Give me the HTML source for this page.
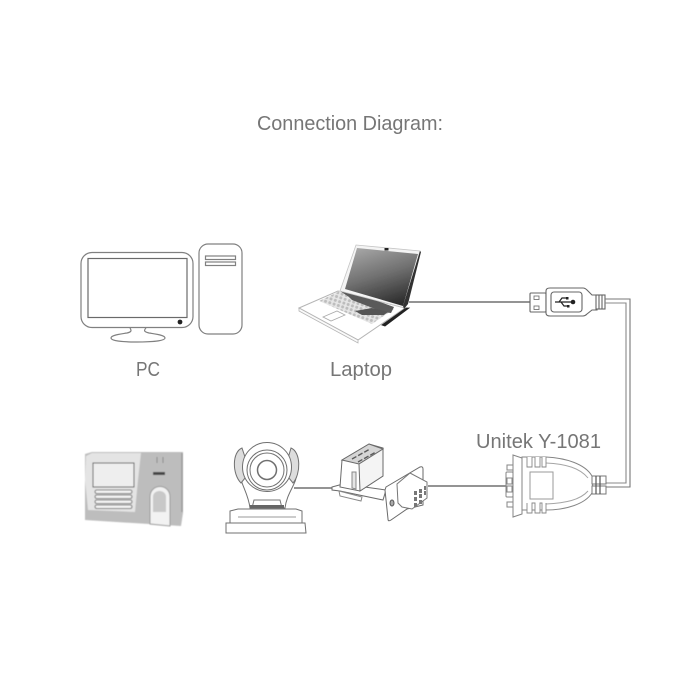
<!DOCTYPE html>
<html><head><meta charset="utf-8"><style>
html,body{margin:0;padding:0;background:#fff;width:700px;height:700px;overflow:hidden}
svg{display:block}
text{font-family:"Liberation Sans",sans-serif;fill:#767676}
</style></head><body>
<svg width="700" height="700" viewBox="0 0 700 700" xmlns="http://www.w3.org/2000/svg">
<defs>
<linearGradient id="scr" x1="0.2" y1="0" x2="0.6" y2="1"><stop offset="0" stop-color="#a5a5a5"/><stop offset="0.5" stop-color="#707070"/><stop offset="1" stop-color="#2e2e2e"/></linearGradient>
<pattern id="hex" width="4.500" height="4" patternUnits="userSpaceOnUse" patternTransform="rotate(18)"><rect width="4.500" height="4" fill="#e6e6e6"/><circle cx="2.200" cy="2" r="1.500" fill="#bdbdbd"/></pattern>
<filter id="b"><feGaussianBlur stdDeviation="0.35"/></filter>
<filter id="b2"><feGaussianBlur stdDeviation="0.6"/></filter>
</defs>
<text x="257" y="130" font-size="20" textLength="186" lengthAdjust="spacingAndGlyphs">Connection Diagram:</text>
<text x="136" y="376" font-size="20" textLength="24" lengthAdjust="spacingAndGlyphs">PC</text>
<text x="330" y="376" font-size="20" textLength="62" lengthAdjust="spacingAndGlyphs">Laptop</text>
<text x="476" y="448" font-size="20" textLength="125" lengthAdjust="spacingAndGlyphs">Unitek Y-1081</text>

<!-- PC -->
<g fill="none" stroke="#808080" stroke-width="1.200" filter="url(#b)">
<rect x="81" y="252.500" width="112" height="75" rx="11"/>
<rect x="88" y="258.500" width="99" height="59" stroke="#6a6a6a"/>
<path d="M130 328c2 3 1 4-3 5-6 1-16 2-16 5s12 4 26 4 28-1 28-4-10-4-16-5c-4-1-6-2-3-5"/>
<rect x="199" y="244" width="43" height="90" rx="9"/>
<rect x="205.500" y="256" width="30" height="3.500"/>
<rect x="205.500" y="262" width="30" height="3.500"/>
</g>
<circle cx="180" cy="322" r="2.400" fill="#222"/>

<!-- Laptop -->
<g filter="url(#b)">
<path d="M299 308 338 291 405 308 358 340Z" fill="#fff" stroke="#b5b5b5" stroke-width="1"/>
<path d="M299 308v3l59 32v-3z" fill="#fafafa" stroke="#b5b5b5" stroke-width=".8"/>
<path d="M319 301 340 291 394 309 372 324Z" fill="url(#hex)"/>
<path d="M340 291 347 290 394 307 391 313 383 312 352 300 349 297Z" fill="#5a5a5a"/>
<path d="M355 311 372 308 388 312 384 315 362 315Z" fill="#555"/>
<path d="M323 317 337 311 345 315 331 321Z" fill="none" stroke="#aaa" stroke-width=".8"/>
<path d="M382 325 406 308 409 308 385 326Z" fill="#222" stroke="#222" stroke-width=".8"/>
<path d="M356 245 420 251 405 308 340 291Z" fill="#f4f4f4" stroke="#c5c5c5" stroke-width=".8"/>
<path d="M357 248 418 254 403 306 345 289Z" fill="url(#scr)"/>
<path d="M420 251 421 252 408 304 404 309 403 306Z" fill="#333"/>
<rect x="384.500" y="248" width="4" height="2.500" fill="#222"/>
</g>
<line x1="409" y1="302" x2="531" y2="302" stroke="#555" stroke-width="1.200"/>

<!-- USB plug -->
<g fill="#fff" stroke="#666" stroke-width="1.100" filter="url(#b)">
<rect x="530" y="293" width="16" height="19" rx="1"/>
<rect x="534" y="296" width="5" height="3.500" stroke-width=".8"/>
<rect x="534" y="306" width="5" height="3.500" stroke-width=".8"/>
<path d="M546 291Q546 288 550 288H583Q585 288 587 290L592 295H597V310H592L587 314Q585 316 583 316H550Q546 316 546 313Z"/>
<rect x="551" y="292" width="31" height="20" rx="3"/>
<rect x="596" y="295" width="9" height="14"/>
<path d="M599 295v14M602 295v14"/>
</g>
<path d="M555 302h18M559 302l3-4h4M561 302l3 4h4" fill="none" stroke="#222" stroke-width="1.200"/>
<circle cx="573" cy="302" r="2.300" fill="#222"/>
<rect x="566" y="297" width="2.500" height="2.500" fill="#222"/>
<rect x="567" y="305" width="2.500" height="2.500" fill="#222"/>
<!-- cable -->
<path d="M605 299H630V487H606" fill="none" stroke="#777" stroke-width="1.100"/>
<path d="M605 303H626V483H606" fill="none" stroke="#888" stroke-width="1.100"/>

<!-- Unitek adapter -->
<line x1="428" y1="486" x2="507" y2="486" stroke="#555" stroke-width="1.200"/>
<g fill="#fff" stroke="#858585" stroke-width="1" filter="url(#b)">
<rect x="507" y="465" width="6" height="5"/>
<rect x="507" y="502" width="6" height="5"/>
<rect x="506" y="472" width="7" height="25" rx="1"/>
<rect x="507" y="478" width="5" height="6"/>
<rect x="507" y="486" width="5" height="6"/>
<path d="M513 455 522 458V514L513 517Z"/>
<path d="M522 457H546C566 458 585 464 592 476 593 484 593 488 592 493 585 504 566 510 546 510H522Z"/>
<path d="M546 463C566 464 580 468 588 478M546 504C566 503 580 500 588 491" stroke="#a5a5a5"/>
<rect x="530" y="472" width="23" height="27" stroke="#9a9a9a"/>
<path d="M527 457v10h5v-10h3v10h5v-10h2v10h4v-10M527 503v10h5v-10h3v10h5v-10h2v10h4v-10" stroke="#888" stroke-width=".9"/>
<rect x="592" y="476" width="14" height="8" stroke="#777"/>
<rect x="592" y="486" width="14" height="8" stroke="#777"/>
<path d="M596 476v18M600 476v18" stroke="#555" stroke-width="1.200"/>
</g>

<!-- Serial connector -->
<line x1="294" y1="488" x2="333" y2="488" stroke="#555" stroke-width="1.200"/>
<g fill="#fff" stroke="#6a6a6a" stroke-width="1" filter="url(#b)">
<path d="M332 487 343 484 386 490 383 500 340 491 332 490Z"/>
<path d="M339 491 340 496 361 501 362 497Z" stroke="#888"/>
<path d="M342 460 369 444 383 448 383 476 360 491 340 487Z"/>
<path d="M342 460 369 444 383 449 359 464Z" fill="#d5d5d5"/>
<path d="M359 464 383 449V476L360 491Z" fill="#f4f4f4"/>
<path d="M352 472h4v17l-4-1z" fill="#e5e5e5" stroke="#888"/>
<path d="M352 459l18-10M358 462l18-10" stroke="#5a5a5a" stroke-width="1.400" stroke-dasharray="5 2"/>
<path d="M386 487 420 467Q423 466 423 469V505L407 509 391 520Q388 522 388 519L385 490Z"/>
<path d="M397 484 410 473 427 482V498L412 509 402 507 398 503Z" stroke="#777"/>
</g>
<ellipse cx="392" cy="503" rx="2" ry="3" fill="#aaa" stroke="#555"/>
<g fill="#777" filter="url(#b)">
<rect x="414" y="491" width="3" height="4"/><rect x="419" y="489" width="3" height="4"/><rect x="424" y="486" width="2" height="4"/>
<rect x="414" y="497" width="3" height="4"/><rect x="419" y="494" width="3" height="4"/><rect x="424" y="491" width="2" height="4"/>
<rect x="414" y="503" width="3" height="4"/><rect x="419" y="500" width="3" height="4"/>
</g>

<!-- Camera -->
<g fill="#fff" stroke="#707070" stroke-width="1" filter="url(#b)">
<path d="M230 511 238 509H296L302 511V523H230Z"/>
<path d="M226 523H305L306 533H226Z"/>
<path d="M238 517H296" stroke="#999"/>
<path d="M240 472C240 484 248 492 250 508H285C287 492 297 484 297 472Z"/>
<path d="M242 448C232 452 232 474 241 483L250 472Z" fill="#ddd"/>
<path d="M291 448C301 452 301 474 293 483L284 472Z" fill="#ddd"/>
<circle cx="267" cy="467" r="24.500"/>
<circle cx="267" cy="470" r="20"/>
<circle cx="267" cy="470" r="17"/>
<circle cx="267" cy="470" r="9.500" stroke-width="1.500"/>
<path d="M252 508 254 500H280L282 508Z" stroke="#777"/>
</g>
<rect x="250" y="505" width="34" height="3" fill="#666" filter="url(#b)"/>

<!-- Attendance terminal -->
<g filter="url(#b2)">
<path d="M85 454 92 452H183V513L181 526L85 520Z" fill="#bdbdbd"/>
<path d="M86 456 92 453H141L138 480 135 512 88 510 85 480Z" fill="#e4e4e4"/>
<rect x="93" y="463" width="41" height="24" fill="#eee" stroke="#555"/>
<g fill="#f4f4f4" stroke="#777" stroke-width="1">
<rect x="95" y="490" width="37" height="3.500" rx="1.700"/>
<rect x="95" y="495" width="37" height="3.500" rx="1.700"/>
<rect x="95" y="500" width="37" height="3.500" rx="1.700"/>
<rect x="95" y="505" width="37" height="3.500" rx="1.700"/>
</g>
<path d="M150 524V497C150 483 170 483 170 497V526Z" fill="#f2f2f2" stroke="#999"/>
<path d="M153 512V497C153 489 166 489 166 497V512Z" fill="#c8c8c8"/>
<rect x="153" y="472" width="12" height="3" fill="#444"/>
<path d="M157 457v6M163 457v6" stroke="#888" stroke-width="1"/>
<path d="M182 453V512" stroke="#999" stroke-width="1.500"/>
</g>
</svg>
</body></html>
